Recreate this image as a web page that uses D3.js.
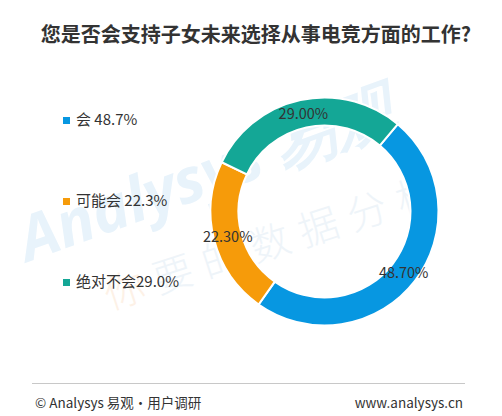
<!DOCTYPE html>
<html>
<head>
  <meta charset="utf-8">
  <script src="https://d3js.org/d3.v7.min.js"></script>
  <style>
    body { margin: 0; background: #fff; }
    text { font-family: "Noto Sans CJK SC", "Microsoft YaHei", sans-serif; }
  </style>
</head>
<body>
  <div id="chart"></div>
  <script type="text/javascript">
  // data
  var categories = ["会", "可能会", "绝对不会"];
  var values = [48.7, 22.3, 29.0];
  var legendLabels = ["会 48.7%", "可能会 22.3%", "绝对不会29.0%"];
  var colors = ["#0797e1", "#f69b0a", "#14a796"];

  var width = 502, height = 416;
  var cx = 324.5, cy = 211.5;

  var svg = d3.select("#chart").append("svg")
      .attr("width", width)
      .attr("height", height);

  // faint watermark
  var wm = svg.append("g").attr("pointer-events", "none");
  wm.append("text")
      .attr("transform", "translate(28,262) rotate(-20)")
      .style("font-family", "'Open Sans', sans-serif")
      .style("font-size", "62px")
      .style("font-style", "italic")
      .style("font-weight", "bold")
      .style("fill", "#e8f3fb")
      .text("Analysys 易观");
  var wm2 = wm.append("text")
      .attr("transform", "translate(110,310) rotate(-18)")
      .style("font-size", "40px")
      .style("font-weight", "300")
      .style("letter-spacing", "11px")
      .style("fill", "#eef4f9");
  wm2.append("tspan").style("fill", "#fdf1e6").text("你");
  wm2.append("tspan").text("要的数据分析");

  // title
  svg.append("text")
      .attr("x", 256)
      .attr("y", 42)
      .attr("text-anchor", "middle")
      .style("font-size", "20px")
      .style("font-weight", "bold")
      .style("fill", "#333")
      .text("您是否会支持子女未来选择从事电竞方面的工作?");

  // donut
  var pie = d3.pie()
      .sort(null)
      .startAngle(40 * Math.PI / 180)
      .endAngle(40 * Math.PI / 180 + 2 * Math.PI)
      .value(function(d) { return d; });

  var arc = d3.arc()
      .innerRadius(86)
      .outerRadius(114);

  var labelArc = d3.arc()
      .innerRadius(100)
      .outerRadius(100);

  var g = svg.append("g")
      .attr("transform", "translate(" + cx + "," + cy + ")");

  var slices = g.selectAll(".arc")
      .data(pie(values))
    .enter().append("g")
      .attr("class", "arc");

  slices.append("path")
      .attr("d", arc)
      .style("fill", function(d, i) { return colors[i]; })
      .style("stroke", "#fff")
      .style("stroke-width", 2);

  slices.append("text")
      .attr("transform", function(d) { return "translate(" + labelArc.centroid(d) + ")"; })
      .attr("text-anchor", "middle")
      .attr("dy", "0.35em")
      .style("font-size", "14.5px")
      .style("fill", "#333")
      .text(function(d) { return d.data.toFixed(2) + "%"; });

  // legend
  var legendY = [120, 201, 282];
  var legend = svg.selectAll(".legend")
      .data(categories)
    .enter().append("g")
      .attr("class", "legend")
      .attr("transform", function(d, i) { return "translate(63," + legendY[i] + ")"; });

  legend.append("rect")
      .attr("x", 0)
      .attr("y", -3)
      .attr("width", 7)
      .attr("height", 7)
      .style("fill", function(d, i) { return colors[i]; });

  legend.append("text")
      .attr("x", 13)
      .attr("dy", "0.35em")
      .style("font-size", "15px")
      .style("fill", "#333")
      .text(function(d, i) { return legendLabels[i]; });

  // footer
  svg.append("line")
      .attr("x1", 32).attr("x2", 465)
      .attr("y1", 383.5).attr("y2", 383.5)
      .style("stroke", "#c8c8c8")
      .style("stroke-width", 1);

  svg.append("text")
      .attr("x", 35)
      .attr("y", 408)
      .style("font-size", "13.5px")
      .style("fill", "#333")
      .text("© Analysys 易观•用户调研");

  svg.append("text")
      .attr("x", 463)
      .attr("y", 408)
      .attr("text-anchor", "end")
      .style("font-size", "13.5px")
      .style("fill", "#333")
      .text("www.analysys.cn");
  </script>
</body>
</html>
